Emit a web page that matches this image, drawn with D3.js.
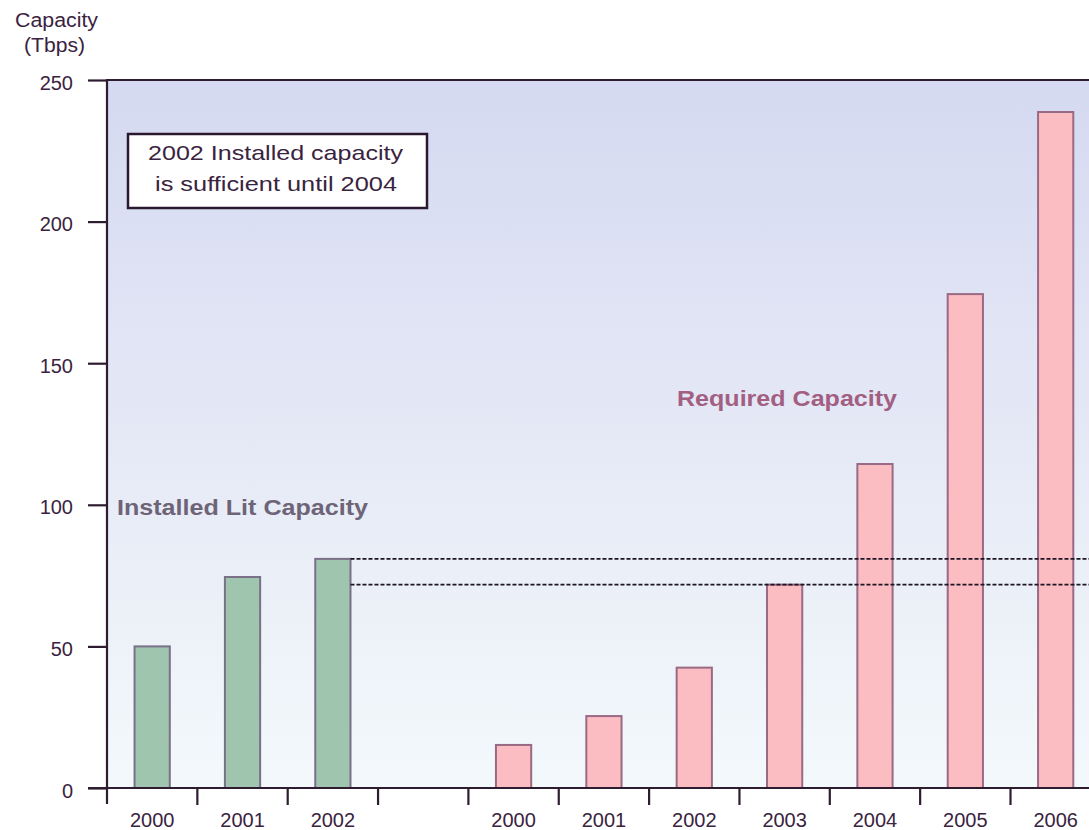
<!DOCTYPE html>
<html><head><meta charset="utf-8">
<script src="https://cdn.jsdelivr.net/npm/d3@7"></script>
<style>body{margin:0;background:#fff;}svg{display:block;font-family:"Liberation Sans",Arial,sans-serif;}</style>
</head><body><svg id="c" width="1089" height="830"></svg>
<script>
const installedYears = ["2000","2001","2002"];
const installedValues = [50, 74.5, 80.9];
const requiredYears = ["2000","2001","2002","2003","2004","2005","2006"];
const requiredValues = [15.2, 25.4, 42.5, 71.8, 114.4, 174.4, 238.7];
const yTicks = [0, 50, 100, 150, 200, 250];
const thresholdValues = [80.9, 71.8];

(function(){
const svg = d3.select("#c");
const W = 1089;
const pLeft = 107, pTop = 80, pBottom = 788;
const slot = 90.35;
const slots = installedYears.map(d => "i" + d).concat(["gap"]).concat(requiredYears.map(d => "r" + d));
const x = d3.scaleBand().domain(slots).range([pLeft, pLeft + slots.length * slot]).paddingInner(0.61).paddingOuter(0.305);
const y = d3.scaleLinear().domain([0, 250]).range([pBottom, pTop]);
const txt = "#3a2340";

const defs = svg.append("defs");
const g = defs.append("linearGradient").attr("id","bg").attr("x1",0).attr("y1",0).attr("x2",0).attr("y2",1);
g.append("stop").attr("offset","0%").attr("stop-color","#d5d9f1");
g.append("stop").attr("offset","50%").attr("stop-color","#e5e9f6");
g.append("stop").attr("offset","100%").attr("stop-color","#f3f9fb");
svg.append("rect").attr("x", pLeft).attr("y", pTop).attr("width", W - pLeft).attr("height", pBottom - pTop).attr("fill","url(#bg)");

const axisColor = "#2e1c30";
svg.append("line").attr("x1", pLeft).attr("x2", W).attr("y1", pTop).attr("y2", pTop).attr("stroke", axisColor).attr("stroke-width", 2.2);

const installed = installedYears.map((d,i)=>({k:"i"+d, v:installedValues[i]}));
const required = requiredYears.map((d,i)=>({k:"r"+d, v:requiredValues[i]}));
svg.selectAll(".ib").data(installed).join("rect")
  .attr("x", d => x(d.k)).attr("width", x.bandwidth())
  .attr("y", d => y(d.v)).attr("height", d => y(0) - y(d.v))
  .attr("fill", "#a0c5ae").attr("stroke", "#7a7088").attr("stroke-width", 2);
svg.selectAll(".rb").data(required).join("rect")
  .attr("x", d => x(d.k)).attr("width", x.bandwidth())
  .attr("y", d => y(d.v)).attr("height", d => y(0) - y(d.v))
  .attr("fill", "#fbbcc2").attr("stroke", "#9a6a84").attr("stroke-width", 2);

const dashStart = x("i2002") + x.bandwidth();
svg.selectAll(".dl").data(thresholdValues).join("line")
  .attr("x1", dashStart).attr("x2", W).attr("y1", d => y(d)).attr("y2", d => y(d))
  .attr("stroke", "#1e1424").attr("stroke-width", 1.8).attr("stroke-dasharray", "4,2");

const yAxis = d3.axisLeft(y).tickValues(yTicks).tickSize(19).tickPadding(15);
const ya = svg.append("g").attr("transform", `translate(${pLeft},0)`).call(yAxis);
ya.select(".domain").remove();
ya.selectAll("line").attr("stroke", axisColor).attr("stroke-width", 2.2);
ya.selectAll("text").attr("fill", txt).attr("font-size", 20).attr("dy", "0.45em")
  .attr("font-family", '"Liberation Sans",Arial,sans-serif');
svg.append("line").attr("x1", pLeft).attr("x2", pLeft).attr("y1", pTop - 1).attr("y2", pBottom + 16).attr("stroke", axisColor).attr("stroke-width", 2.2);

svg.append("line").attr("x1", pLeft - 19).attr("x2", W).attr("y1", pBottom).attr("y2", pBottom).attr("stroke", axisColor).attr("stroke-width", 2.2);
const bounds = slots.slice(1).map(k => x(k) - x.step()*x.paddingInner()/2);
svg.selectAll(".xt").data(bounds).join("line")
  .attr("x1", d => d).attr("x2", d => d).attr("y1", pBottom).attr("y2", pBottom + 17)
  .attr("stroke", axisColor).attr("stroke-width", 2.2);
const labels = installed.map(d=>d.k).concat(required.map(d=>d.k));
svg.selectAll(".xl").data(labels).join("text")
  .attr("x", d => x(d) + x.bandwidth()/2).attr("y", 827)
  .attr("text-anchor", "middle").attr("font-size", 20).attr("fill", txt)
  .text(d => d.slice(1));

function label(t, xx, yy, size, len, opts) {
  const e = svg.append("text").attr("x", xx).attr("y", yy).attr("font-size", size)
    .attr("textLength", len).attr("lengthAdjust", "spacingAndGlyphs").text(t);
  Object.entries(opts || {}).forEach(([k, v]) => e.attr(k, v));
  return e;
}
label("Capacity", 15, 27, 20, 83, {fill: txt});
label("(Tbps)", 24, 52, 20, 61, {fill: txt});

svg.append("rect").attr("x", 128).attr("y", 134).attr("width", 299).attr("height", 74).attr("fill","#fff").attr("stroke","#2a1830").attr("stroke-width", 2.5);
label("2002 Installed capacity", 148, 160, 21, 255, {fill: txt});
label("is sufficient until 2004", 155, 191, 21, 242, {fill: txt});

label("Installed Lit Capacity", 117, 515, 22, 251, {fill: "#6e6478", "font-weight": "bold"});
label("Required Capacity", 677, 406, 22, 220, {fill: "#a25f82", "font-weight": "bold"});
})();
</script></body></html>
